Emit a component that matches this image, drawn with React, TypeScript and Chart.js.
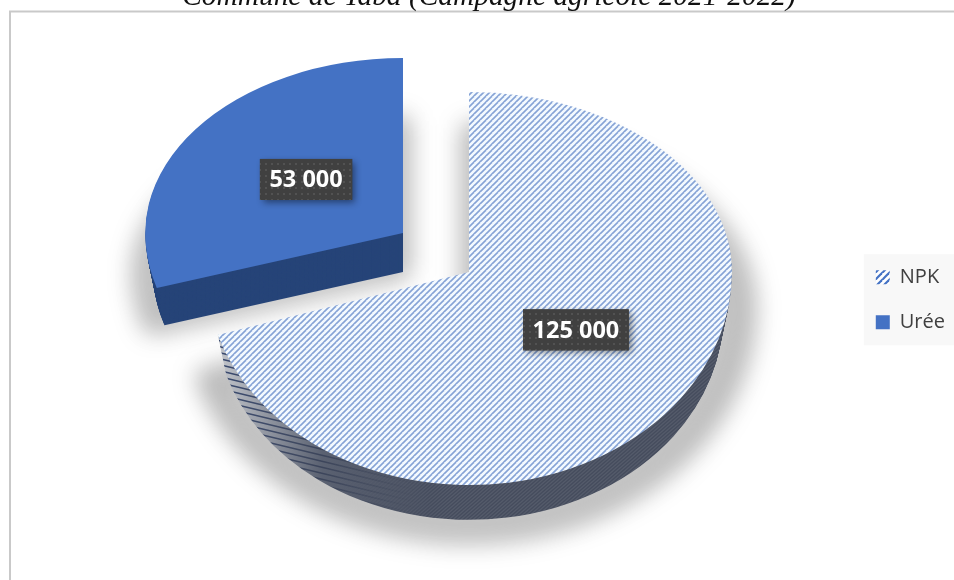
import { useEffect, useRef } from "react";
import { Chart, registerables } from "chart.js";

Chart.register(...registerables);

const chartTitle = "Commune de Taba (Campagne agricole 2021-2022)";
const categories = ["NPK", "Urée"];
const quantities = [125000, 53000];
const valueLabels = ["125 000", "53 000"];

const WIDTH = 954;
const HEIGHT = 580;
const RADIUS = 263;
// Oblique-view staging of each slice: anchor of the slice tip, vertical squash above/below it, wall height.
const stages = [
  { cx: 469, cy: 272, sx: 1, up: 0.684, down: 0.81, depth: 42, labelRadius: 0.505, shadow: { dx: 0, dy: 36, sx: 1.06, up: 0.684, down: 0.87 } },
  { cx: 403, cy: 233, sx: 0.98, up: 0.665, down: 0.706, depth: 39, labelRadius: 0.458, shadow: { dx: 0, dy: 40, sx: 1.0, up: 0.58, down: 0.72 } },
];
const LABEL_LIFT = -6;
const WALL_SHRINK = 0.032;

function makeCanvas(w: number, h: number) {
  const c = document.createElement("canvas");
  c.width = w;
  c.height = h;
  return c;
}

function stripeTile(size: number, bg: string, fg: string, lw: number) {
  const c = makeCanvas(size, size);
  const g = c.getContext("2d")!;
  g.fillStyle = bg;
  g.fillRect(0, 0, size, size);
  g.strokeStyle = fg;
  g.lineWidth = lw;
  for (let i = -size; i <= size * 2; i += size) {
    g.beginPath();
    g.moveTo(i - size, size * 2);
    g.lineTo(i + size, 0);
    g.stroke();
  }
  return c;
}

function wallTexture() {
  const c = makeCanvas(WIDTH, HEIGHT);
  const g = c.getContext("2d")!;
  const base = g.createLinearGradient(215, 0, 430, 0);
  base.addColorStop(0, "#c6c9ce");
  base.addColorStop(0.25, "#8f949f");
  base.addColorStop(0.5, "#5a6171");
  base.addColorStop(1, "#454c5d");
  g.fillStyle = base;
  g.fillRect(0, 0, WIDTH, HEIGHT);
  const ink = g.createLinearGradient(215, 0, 420, 0);
  ink.addColorStop(0, "rgba(40,58,100,0.9)");
  ink.addColorStop(0.5, "rgba(45,55,80,0.7)");
  ink.addColorStop(1, "rgba(50,58,78,0)");
  g.strokeStyle = ink;
  g.lineWidth = 1.5;
  for (let y = 300; y < 560; y += 6) {
    g.beginPath();
    g.moveTo(200, y);
    g.lineTo(450, y + 60);
    g.stroke();
  }
  const fine = g.createLinearGradient(330, 0, 450, 0);
  fine.addColorStop(0, "rgba(100,106,120,0)");
  fine.addColorStop(1, "rgba(100,106,120,0.5)");
  g.strokeStyle = fine;
  g.lineWidth = 1.2;
  for (let x = 300; x < 1200; x += 4) {
    g.beginPath();
    g.moveTo(x - 320, 580);
    g.lineTo(x, 300);
    g.stroke();
  }
  return c;
}

function App() {
  const ref = useRef<HTMLCanvasElement>(null);

  useEffect(() => {
    const canvas = ref.current!;
    const ctx = canvas.getContext("2d")!;
    const hatch = ctx.createPattern(stripeTile(6, "#f4faff", "#86a3d6", 1.6), "repeat")!;
    const legendHatch = ctx.createPattern(stripeTile(7, "#ffffff", "#4472c4", 2.2), "repeat")!;
    const wallHatch = ctx.createPattern(wallTexture(), "no-repeat")!;
    const dotTile = makeCanvas(6, 6);
    const dg = dotTile.getContext("2d")!;
    dg.fillStyle = "#404040";
    dg.fillRect(0, 0, 6, 6);
    dg.fillStyle = "#525252";
    dg.fillRect(1, 1, 2, 2);
    const dots = ctx.createPattern(dotTile, "repeat")!;

    const faces: any[] = [hatch, "#4472c4"];
    const walls: any[] = [wallHatch, "#264478"];

    const paint = (c: CanvasRenderingContext2D, el: any, fill: any, cx: number, cy: number, sx: number, sy: number, up: number, down: number, extra: any = {}) => {
      [
        [up, -100, cy + 100],
        [down, cy, HEIGHT + 100],
      ].forEach(([k, top, h]) => {
        c.save();
        c.beginPath();
        c.rect(-50, top, WIDTH + 100, h);
        c.clip();
        c.translate(cx, cy);
        c.scale(sx, sy * k);
        c.translate(-el.x, -el.y);
        if (fill instanceof CanvasPattern) fill.setTransform(c.getTransform().inverse());
        const ghost = Object.create(el);
        ghost.options = {
          backgroundColor: fill,
          borderWidth: 0,
          borderColor: fill,
          borderAlign: "center",
          borderJoinStyle: "round",
          borderRadius: 0,
          borderDash: [],
          borderDashOffset: 0,
          circular: true,
          spacing: 0,
          offset: 0,
          ...extra,
        };
        ghost.draw(c);
        c.restore();
      });
    };

    const scenePlugin = {
      id: "scene",
      beforeDraw(chart: any) {
        const c = chart.ctx;
        c.save();
        c.fillStyle = "#ffffff";
        c.fillRect(0, 0, WIDTH, HEIGHT);
        c.strokeStyle = "#c9c9c9";
        c.lineWidth = 2;
        c.strokeRect(10, 11.5, WIDTH + 50, HEIGHT + 50);
        const first = chart.legend.legendHitBoxes[0];
        c.fillStyle = "#f8f8f8";
        c.fillRect(first.left - 12, first.top - 13, WIDTH, 91);
        c.restore();
      },
      beforeDatasetsDraw(chart: any) {
        const c = chart.ctx;
        const arcs = chart.getDatasetMeta(0).data;
        arcs.forEach((el: any, i: number) => {
          const st = stages[i];
          const sh = st.shadow;
          c.save();
          c.filter = "blur(12px)";
          paint(c, el, "rgba(0,0,0,0.21)", st.cx + sh.dx, st.cy + sh.dy, sh.sx, 1, sh.up, sh.down, { borderWidth: 16, borderColor: "rgba(0,0,0,0.21)" });
          c.restore();
        });
        arcs.forEach((el: any, i: number) => {
          const st = stages[i];
          for (let t = st.depth; t >= 1; t--) {
            const s = 1 - (WALL_SHRINK * t) / 40;
            paint(c, el, walls[i], st.cx, st.cy + t, s * st.sx, s, st.up, st.down);
          }
          paint(c, el, faces[i], st.cx, st.cy, st.sx, 1, st.up, st.down);
        });
        arcs.forEach((el: any, i: number) => {
          const st = stages[i];
          const mid = (el.startAngle + el.endAngle) / 2;
          const ox = Math.cos(mid) * RADIUS * st.labelRadius;
          const oy = Math.sin(mid) * RADIUS * st.labelRadius;
          const x = st.cx + ox;
          const y = st.cy + oy * (oy < 0 ? st.up : st.down) + LABEL_LIFT;
          c.save();
          c.font = "bold 23.5px 'Open Sans'";
          const w = c.measureText(valueLabels[i]).width + 19;
          const h = 41;
          c.shadowColor = "rgba(0,0,0,0.45)";
          c.shadowBlur = 7;
          c.shadowOffsetX = 3;
          c.shadowOffsetY = 3;
          c.fillStyle = "#404040";
          c.fillRect(x - w / 2, y - h / 2, w, h);
          c.shadowColor = "transparent";
          c.fillStyle = dots;
          c.fillRect(x - w / 2, y - h / 2, w, h);
          c.fillStyle = "#ffffff";
          c.textAlign = "center";
          c.textBaseline = "middle";
          c.fillText(valueLabels[i], x, y + 1);
          c.restore();
        });
        return false;
      },
    };

    const chart = new Chart(canvas, {
      type: "pie",
      data: {
        labels: categories,
        datasets: [
          {
            data: quantities,
            backgroundColor: [hatch, "#4472c4"],
            borderWidth: 0,
            radius: RADIUS,
          } as any,
        ],
      },
      options: {
        responsive: false,
        animation: false,
        devicePixelRatio: 1,
        layout: { padding: { top: -20.5, left: 23, right: -1, bottom: -40 } },
        plugins: {
          title: {
            display: true,
            text: chartTitle,
            color: "#111111",
            padding: 0,
            font: { family: "'Liberation Serif'", size: 29.4, style: "italic", weight: "normal", lineHeight: 1.2 },
          },
          legend: {
            display: true,
            position: "right",
            labels: {
              boxWidth: 14,
              boxHeight: 14,
              padding: 25,
              color: "#404040",
              font: { family: "'Open Sans'", size: 20 },
              generateLabels: () =>
                categories.map((text, i) => ({
                  text,
                  fillStyle: i === 0 ? legendHatch : "#4472c4",
                  strokeStyle: "transparent",
                  lineWidth: 0,
                  hidden: false,
                  index: i,
                  fontColor: "#404040",
                })),
            },
          },
          tooltip: { enabled: false },
        },
      } as any,
      plugins: [scenePlugin as any],
    });
    return () => chart.destroy();
  }, []);

  return (
    <div style={{ position: "absolute", left: 0, top: 0, width: WIDTH, height: HEIGHT, overflow: "hidden", background: "#fff" }}>
      <canvas ref={ref} width={WIDTH} height={HEIGHT} style={{ display: "block" }} />
    </div>
  );
}

export default App;
